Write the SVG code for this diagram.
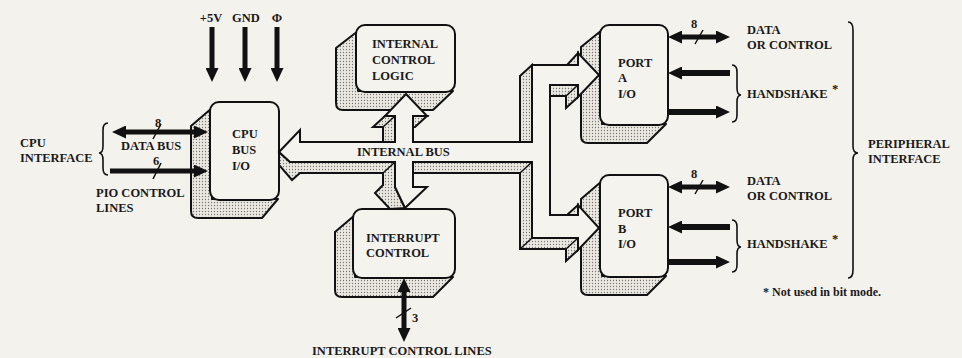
<svg xmlns="http://www.w3.org/2000/svg" width="962" height="358" viewBox="0 0 962 358">
<defs>
<pattern id="dots" width="3" height="3" patternUnits="userSpaceOnUse">
<rect width="3" height="3" fill="#ebe8e1"/>
<circle cx="1.5" cy="1.5" r="0.65" fill="#777"/>
</pattern>
<marker id="ah" markerUnits="userSpaceOnUse" markerWidth="14" markerHeight="13" refX="5" refY="6.5" orient="auto-start-reverse" viewBox="0 0 14 13"><path d="M0,0 L14,6.5 L0,13 Z" fill="#111"/></marker>
<style>
.sh{fill:url(#dots);stroke:#111;stroke-width:2;stroke-linejoin:round}
.fr{fill:#f5f3ee;stroke:#111;stroke-width:2}
.bus{fill:#f5f3ee;stroke:#111;stroke-width:2;stroke-linejoin:miter}
.bsh{fill:url(#dots);stroke:#111;stroke-width:2;stroke-linejoin:miter}
.fold{stroke:#111;stroke-width:1.5}
.ar{stroke:#111;stroke-width:5;fill:none}
.ar6{stroke:#111;stroke-width:6;fill:none}
.sl{stroke:#111;stroke-width:1.5}
.br{fill:none;stroke:#111;stroke-width:1.6}
text{font-family:"Liberation Serif","Times New Roman",serif;font-weight:bold;font-size:12.5px;fill:#1a1a1a}
.sm{font-size:12px}
</style>
</defs>
<rect width="962" height="358" fill="#f4f2ed"/>

<g id="cpu-bus-io">
<path class="sh" d="M212,108 L191,126 L191,211 Q191,218 198,218 L262,218 L278,199 L212,199 Z"/>
<rect class="fr" x="210" y="102" width="69" height="98" rx="9"/>
<text x="232" y="138">CPU</text>
<text x="232" y="154">BUS</text>
<text x="232" y="170">I/O</text>
</g>

<g id="internal-control-logic">
<path class="sh" d="M358,31 L336,48 L336,103 Q336,110 343,110 L433,110 L453,91 L358,91 Z"/>
<rect class="fr" x="356" y="25" width="99" height="67" rx="9"/>
<text x="372" y="48">INTERNAL</text>
<text x="372" y="64">CONTROL</text>
<text x="372" y="80">LOGIC</text>
</g>

<g id="interrupt-control">
<path class="sh" d="M355,215 L335,232 L335,290 Q335,297 342,297 L433,297 L453,277 L355,277 Z"/>
<rect class="fr" x="353" y="209" width="102" height="69" rx="9"/>
<text x="366" y="242">INTERRUPT</text>
<text x="366" y="257">CONTROL</text>
</g>

<g id="port-a-io">
<path class="sh" d="M602,30 L581,47 L581,136 Q581,143 588,143 L647,143 L666,124 L602,124 Z"/>
<rect class="fr" x="600" y="25" width="68" height="100" rx="9"/>
<text x="618" y="67">PORT</text>
<text x="618" y="82">A</text>
<text x="618" y="98">I/O</text>
</g>

<g id="port-b-io">
<path class="sh" d="M602,181 L581,199 L581,288 Q581,295 588,295 L647,295 L666,276 L602,276 Z"/>
<rect class="fr" x="600" y="175" width="68" height="102" rx="9"/>
<text x="618" y="217">PORT</text>
<text x="618" y="233">B</text>
<text x="618" y="248">I/O</text>
</g>

<g id="connectors">
<path class="bsh" d="M279,152 L290,162 L395,162 L395,187 L405,208 L390,209 L375,193 L383,185 L383,173 L300,173 L292,180 L279,165 Z"/>
<path class="bsh" d="M385,116 L395,116 L395,142 L383,142 L383,127 L373,127 Z"/>
<path class="bsh" d="M413,116 L427,116 L415,127 L413,127 Z"/>
<path class="bsh" d="M520,76 L532,65 L532,142 L520,142 Z"/>
<path class="bsh" d="M578,53 L578,65 L567,65 Z"/>
<path class="bsh" d="M550,85 L578,85 L578,97 L566,108 L566,96 L550,96 Z"/>
<path class="bsh" d="M578,205 L578,215 L567,215 Z"/>
<path class="bsh" d="M413,162 L532,162 L532,238 L578,238 L578,250 L566,261 L566,249 L520,249 L520,173 L413,173 Z"/>
<line class="fold" x1="383" y1="173" x2="395" y2="162"/>
<line class="fold" x1="383" y1="127" x2="395" y2="116"/>
<line class="fold" x1="520" y1="173" x2="532" y2="162"/>
<line class="fold" x1="520" y1="249" x2="532" y2="238"/>
<line class="fold" x1="566" y1="249" x2="578" y2="238"/>
<line class="fold" x1="566" y1="96" x2="578" y2="85"/>
<path class="bus" d="M279,152 L300,130 L300,142 L395,142 L395,116 L385,116 L406,94 L427,116 L413,116 L413,142 L532,142 L532,65 L578,65 L578,53 L599,75 L578,97 L578,85 L550,85 L550,215 L578,215 L578,205 L599,228 L578,250 L578,238 L532,238 L532,162 L413,162 L413,187 L427,187 L405,208 L395,187 L395,162 L290,162 Z"/>

<line class="ar" x1="212" y1="27" x2="212" y2="73" marker-end="url(#ah)"/>
<line class="ar" x1="245" y1="27" x2="245" y2="73" marker-end="url(#ah)"/>
<line class="ar" x1="277" y1="27" x2="277" y2="73" marker-end="url(#ah)"/>

<line class="ar" x1="121" y1="132" x2="199" y2="132" marker-start="url(#ah)" marker-end="url(#ah)"/>
<line class="sl" x1="153" y1="139" x2="161" y2="124"/>
<line class="ar" x1="110" y1="171" x2="199" y2="171" marker-end="url(#ah)"/>
<line class="sl" x1="153" y1="179" x2="161" y2="163"/>
<path class="br" d="M108,123 Q103,123 103,130 L103,146 Q103,153 99,153 Q103,153 103,160 L103,168 Q103,175 108,175"/>

<line class="ar" x1="404" y1="287" x2="404" y2="333" marker-start="url(#ah)" marker-end="url(#ah)"/>
<line class="sl" x1="396" y1="318" x2="411" y2="308"/>

<line class="ar" x1="677" y1="37" x2="721" y2="37" marker-start="url(#ah)" marker-end="url(#ah)"/>
<line class="sl" x1="695" y1="44" x2="703" y2="30"/>
<line class="ar6" x1="730" y1="73" x2="677" y2="73" marker-end="url(#ah)"/>
<line class="ar6" x1="668" y1="112" x2="721" y2="112" marker-end="url(#ah)"/>
<path class="br" d="M732,65 Q737,65 737,72 L737,88 Q737,95 741,95 Q737,95 737,102 L737,115 Q737,122 732,122"/>

<line class="ar" x1="677" y1="187" x2="721" y2="187" marker-start="url(#ah)" marker-end="url(#ah)"/>
<line class="sl" x1="695" y1="194" x2="703" y2="180"/>
<line class="ar6" x1="730" y1="227" x2="677" y2="227" marker-end="url(#ah)"/>
<line class="ar6" x1="668" y1="262" x2="721" y2="262" marker-end="url(#ah)"/>
<path class="br" d="M732,220 Q737,220 737,227 L737,240 Q737,247 741,247 Q737,247 737,254 L737,265 Q737,272 732,272"/>

<path class="br" d="M848,22 Q853,22 853,30 L853,146 Q853,153 858,153 Q853,153 853,160 L853,270 Q853,278 848,278"/>
</g>

<g id="labels">
<text x="211" y="22" text-anchor="middle">+5V</text>
<text x="246" y="22" text-anchor="middle">GND</text>
<text x="277" y="22" text-anchor="middle">Φ</text>
<text x="20" y="147">CPU</text>
<text x="20" y="162">INTERFACE</text>
<text x="158" y="127" text-anchor="middle">8</text>
<text x="121" y="150">DATA BUS</text>
<text x="156" y="165" text-anchor="middle">6</text>
<text x="96" y="197">PIO CONTROL</text>
<text x="96" y="212">LINES</text>
<text x="357" y="156">INTERNAL BUS</text>
<text x="412" y="322">3</text>
<text x="312" y="355">INTERRUPT CONTROL LINES</text>
<text x="694" y="28" text-anchor="middle">8</text>
<text x="747" y="34">DATA</text>
<text x="747" y="49">OR CONTROL</text>
<text x="747" y="98">HANDSHAKE</text>
<text x="832" y="93">*</text>
<text x="694" y="178" text-anchor="middle">8</text>
<text x="747" y="185">DATA</text>
<text x="747" y="200">OR CONTROL</text>
<text x="747" y="248">HANDSHAKE</text>
<text x="832" y="243">*</text>
<text x="868" y="148">PERIPHERAL</text>
<text x="868" y="163">INTERFACE</text>
<text class="sm" x="763" y="296">* Not used in bit mode.</text>
</g>
</svg>
